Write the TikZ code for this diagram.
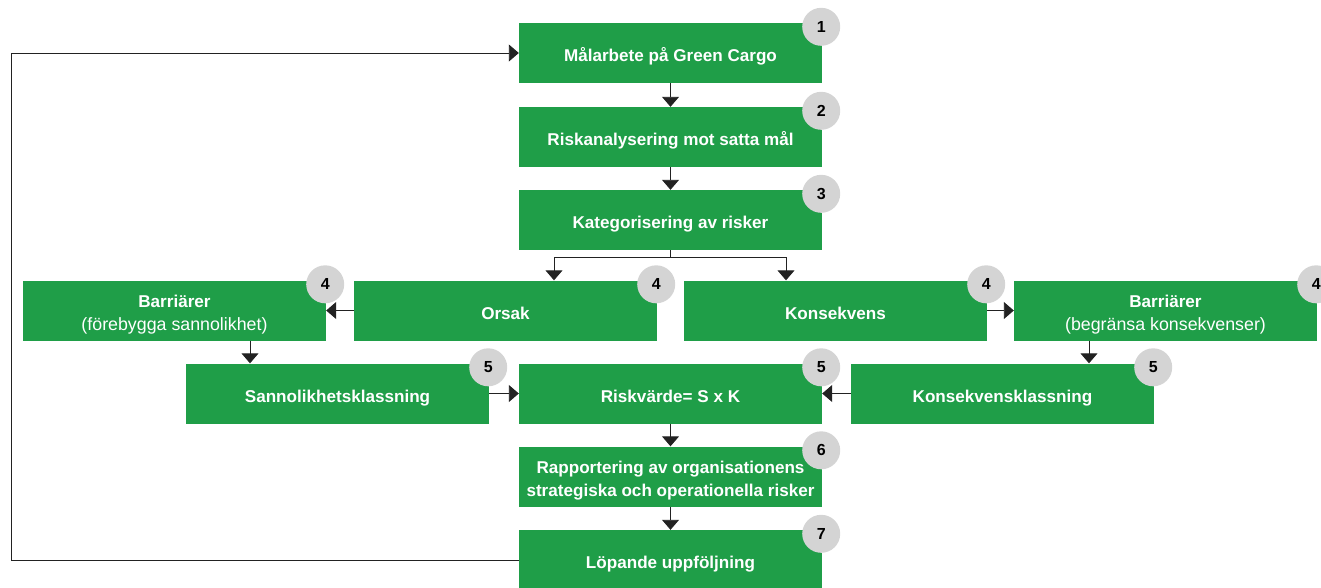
\documentclass[tikz,border=0pt]{standalone}
\usepackage{fontspec}
\setmainfont{Liberation Sans}
\usetikzlibrary{arrows.meta,calc}
\definecolor{gcgreen}{HTML}{1F9E48}
\definecolor{badgegray}{HTML}{D4D4D4}
\definecolor{linecol}{HTML}{222222}
\begin{document}
\begin{tikzpicture}[x=1pt,y=-1pt,
  box/.style={fill=gcgreen,minimum width=303pt,minimum height=60pt,inner sep=0pt,
    text=white,align=center,font=\fontsize{17.1}{23}\selectfont\bfseries,
    text height=17.4pt,text depth=0pt},
  twoline/.style={text height=39pt,text depth=0pt},
  badge/.style={circle,fill=badgegray,minimum size=38pt,inner sep=0pt,
    font=\fontsize{16}{18}\selectfont\bfseries,text=black},
  arr/.style={draw=linecol,line width=0.9pt,-{Triangle[width=17pt,length=10pt]}},
  ln/.style={draw=linecol,line width=0.9pt}
]
\useasboundingbox (0,0) rectangle (1321,587);
\node[box] (b1) at (670.5,53) {Målarbete på Green Cargo};
\node[box] (b2) at (670.5,137) {Riskanalysering mot satta mål};
\node[box] (b3) at (670.5,220) {Kategorisering av risker};
\node[box,twoline] (b4a) at (174.5,310.5) {Barriärer\\{\mdseries\fontsize{17.8}{23}\selectfont (förebygga sannolikhet)}};
\node[box] (b4b) at (505.5,310.5) {Orsak};
\node[box] (b4c) at (835.5,310.5) {Konsekvens};
\node[box,twoline] (b4d) at (1165.5,310.5) {Barriärer\\{\mdseries\fontsize{17.8}{23}\selectfont (begränsa konsekvenser)}};
\node[box] (b5a) at (337.5,393.5) {Sannolikhetsklassning};
\node[box] (b5b) at (670.5,393.5) {Riskvärde= S x K};
\node[box] (b5c) at (1002.5,393.5) {Konsekvensklassning};
\node[box,twoline] (b6) at (670.5,476.5) {Rapportering av organisationens\\strategiska och operationella risker};
\node[box] (b7) at (670.5,560) {Löpande uppföljning};

\foreach \b/\n in {b1/1,b2/2,b3/3,b4a/4,b4b/4,b4c/4,b4d/4,b5a/5,b5b/5,b5c/5,b6/6,b7/7}
  \node[badge] (badge-\b) at ($(\b.north east)+(-1,4)$) {\n};

\coordinate (split) at (670.5,257.5);
\coordinate (sl) at (554,257.5);
\coordinate (sr) at (786,257.5);
\coordinate (xl) at (250,0);
\coordinate (xr) at (1089,0);
\coordinate (lc) at (11,0);

\draw[arr] (b1) -- (b2);
\draw[arr] (b2) -- (b3);
\draw[ln] (b3.south) -- (split);
\draw[arr] (split) -| (sl |- b4b.north);
\draw[arr] (split) -| (sr |- b4c.north);
\draw[arr] (b4b.west) -- (b4a.east);
\draw[arr] (b4c.east) -- (b4d.west);
\draw[arr] (xl |- b4a.south) -- (xl |- b5a.north);
\draw[arr] (xr |- b4d.south) -- (xr |- b5c.north);
\draw[arr] (b5a.east) -- (b5b.west);
\draw[arr] (b5c.west) -- (b5b.east);
\draw[arr] (b5b) -- (b6);
\draw[arr] (b6) -- (b7);
\draw[arr] (b7.west) -- (b7.west -| lc) |- (b1.west);
\end{tikzpicture}
\end{document}
